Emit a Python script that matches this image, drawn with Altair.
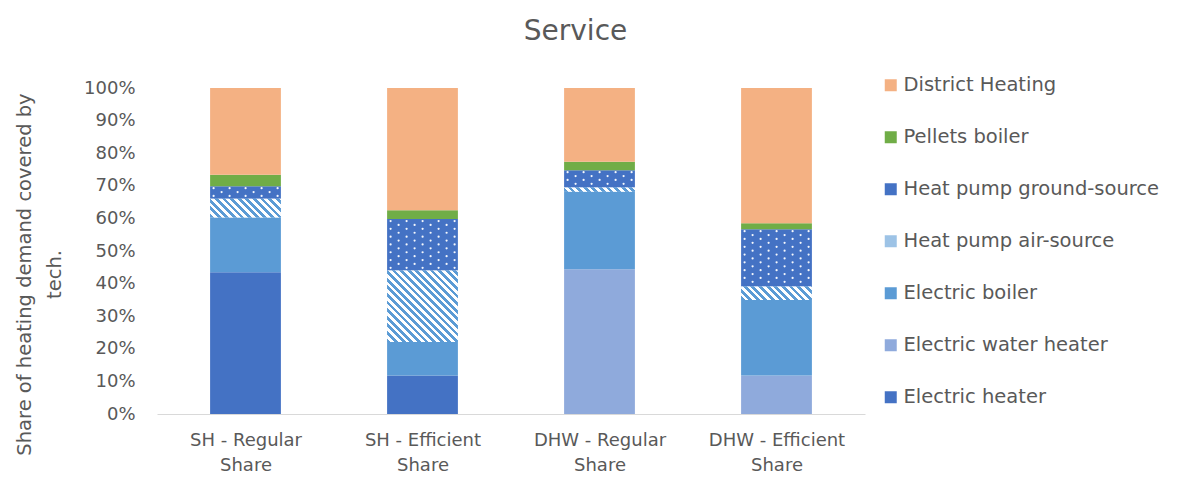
import json
import altair as alt
import pandas as pd

# ---------------- data ----------------
categories = ["SH - Regular Share", "SH - Efficient Share", "DHW - Regular Share", "DHW - Efficient Share"]
category_lines = [["SH - Regular", "Share"], ["SH - Efficient", "Share"],
                  ["DHW - Regular", "Share"], ["DHW - Efficient", "Share"]]

# stacking order, bottom to top
techs = ["Electric heater", "Electric water heater", "Electric boiler",
         "Heat pump air-source", "Heat pump ground-source", "Pellets boiler", "District Heating"]

electric_heater = [43.5, 11.8, 0.0, 0.0]
electric_water_heater = [0.0, 0.0, 44.4, 11.8]
electric_boiler = [16.8, 10.3, 23.8, 23.2]
heat_pump_air = [5.7, 21.9, 1.3, 4.1]
heat_pump_ground = [3.9, 15.8, 5.3, 17.6]
pellets_boiler = [3.5, 2.7, 2.6, 1.8]
district_heating = [26.6, 37.5, 22.6, 41.5]

series = {
    "Electric heater": electric_heater,
    "Electric water heater": electric_water_heater,
    "Electric boiler": electric_boiler,
    "Heat pump air-source": heat_pump_air,
    "Heat pump ground-source": heat_pump_ground,
    "Pellets boiler": pellets_boiler,
    "District Heating": district_heating,
}

legend_order = ["District Heating", "Pellets boiler", "Heat pump ground-source",
                "Heat pump air-source", "Electric boiler", "Electric water heater", "Electric heater"]
legend_colors = ["#F4B183", "#70AD47", "#4472C4", "#9DC3E6", "#5B9BD5", "#8FAADC", "#4472C4"]

# ---------------- layout / style ----------------
W, H = 708, 326
BAND = W / len(categories)
HALF = 0.2          # half bar width in band units
TXT = "#595959"
FONT = "DejaVu Sans"
STRIPE_BLUE = "#5B9BD5"

rows = []
for i, cat in enumerate(categories):
    cum = 0.0
    for t in techs:
        v = series[t][i]
        if v > 0:
            rows.append(dict(cat=cat, idx=i, tech=t, value=v,
                             x0=i + 0.5 - HALF, x1=i + 0.5 + HALF,
                             y0=cum / 100, y1=(cum + v) / 100))
            cum += v
df = pd.DataFrame(rows)

xscale = alt.Scale(domain=[0, len(categories)], nice=False, zero=False)
yscale = alt.Scale(domain=[0, 1], nice=False)

label_expr = json.dumps(category_lines) + "[floor(datum.value)]"

xaxis = alt.Axis(values=[i + 0.5 for i in range(len(categories))], labelExpr=label_expr,
                 title=None, ticks=False, grid=False, domainColor="#D9D9D9",
                 labelColor=TXT, labelFont=FONT, labelFontSize=18,
                 labelPadding=17, labelLineHeight=25, labelBaseline="top")
yaxis = alt.Axis(values=[k / 10 for k in range(11)], format=".0%",
                 domain=False, ticks=False, grid=False,
                 labelColor=TXT, labelFont=FONT, labelFontSize=18, labelPadding=22,
                 title=["Share of heating demand covered by", "tech."],
                 titleColor=TXT, titleFont=FONT, titleFontSize=19.5, titleFontWeight="normal",
                 titleAngle=-90, titleX=-127, titleY=186, titleAlign="center",
                 titleBaseline="alphabetic", titleLineHeight=30)

base = alt.Chart(df).mark_bar().encode(
    x=alt.X("x0:Q", scale=xscale, axis=xaxis),
    x2="x1:Q",
    y=alt.Y("y0:Q", scale=yscale, axis=yaxis),
    y2="y1:Q",
    color=alt.Color("tech:N", scale=alt.Scale(domain=legend_order, range=legend_colors),
                    legend=alt.Legend(title=None, orient="none", legendX=724, legendY=-12.5,
                                      padding=0, symbolType="square", symbolSize=144,
                                      symbolStrokeWidth=0, labelOffset=3, rowPadding=31,
                                      labelLimit=0,
                                      labelColor=TXT, labelFont=FONT, labelFontSize=19.5)),
)


def stripe_gradient(w, h, period=7.6):
    s = w * (w + h) / (w * w + h * h)
    dt = period / (w + h)
    stops = []
    t = 0.0
    while t < 1:
        b = min(t + dt / 2, 1.0)
        c = min(t + dt, 1.0)
        stops += [{"offset": round(t, 5), "color": STRIPE_BLUE},
                  {"offset": round(b, 5), "color": STRIPE_BLUE},
                  {"offset": round(b, 5), "color": "#FFFFFF"},
                  {"offset": round(c, 5), "color": "#FFFFFF"}]
        t += dt
    return {"gradient": "linear", "x1": 0, "y1": 1, "x2": round(s, 5),
            "y2": round(1 - s * h / w, 5), "stops": stops}


layers = [base]
air = df[df.tech == "Heat pump air-source"]
for _, r in air.iterrows():
    w = 2 * HALF * BAND
    h = r.value / 100 * H
    sub = air[air.idx == r.idx]
    layers.append(
        alt.Chart(sub).mark_bar(fill=stripe_gradient(w, h)).encode(
            x=alt.X("x0:Q", scale=xscale, axis=xaxis), x2="x1:Q",
            y=alt.Y("y0:Q", scale=yscale, axis=yaxis), y2="y1:Q")
    )

# dotted pattern for ground-source heat pumps
dots = []
ground = df[df.tech == "Heat pump ground-source"]
for _, r in ground.iterrows():
    seg_h = r.value / 100 * H
    seg_w = 2 * HALF * BAND
    k = 0
    px = 3.5
    while px < seg_w - 1:
        py = 2.0 if k % 2 == 0 else 5.9
        while py < seg_h - 1.2:
            dots.append(dict(x=r.x0 + px / BAND, y=r.y1 - py / H))
            py += 7.8
        px += 8.0
        k += 1
ddf = pd.DataFrame(dots)
layers.append(
    alt.Chart(ddf).mark_circle(size=5, color="#FFFFFF", opacity=0.95).encode(
        x=alt.X("x:Q", scale=xscale, axis=xaxis),
        y=alt.Y("y:Q", scale=yscale, axis=yaxis))
)

chart = alt.layer(*layers).properties(
    width=W, height=H,
    title=alt.TitleParams("Service", anchor="middle", dx=64.5, fontSize=28, font=FONT,
                          fontWeight="normal", color=TXT, offset=30),
    autosize=alt.AutoSizeParams(type="none"),
    padding={"left": 149, "top": 80, "right": 1177 - 16 - 149 - W, "bottom": 500 - 16 - 80 - H},
).configure_view(stroke=None)

chart.save("out.html", embed_options={"renderer": "svg", "actions": False})
